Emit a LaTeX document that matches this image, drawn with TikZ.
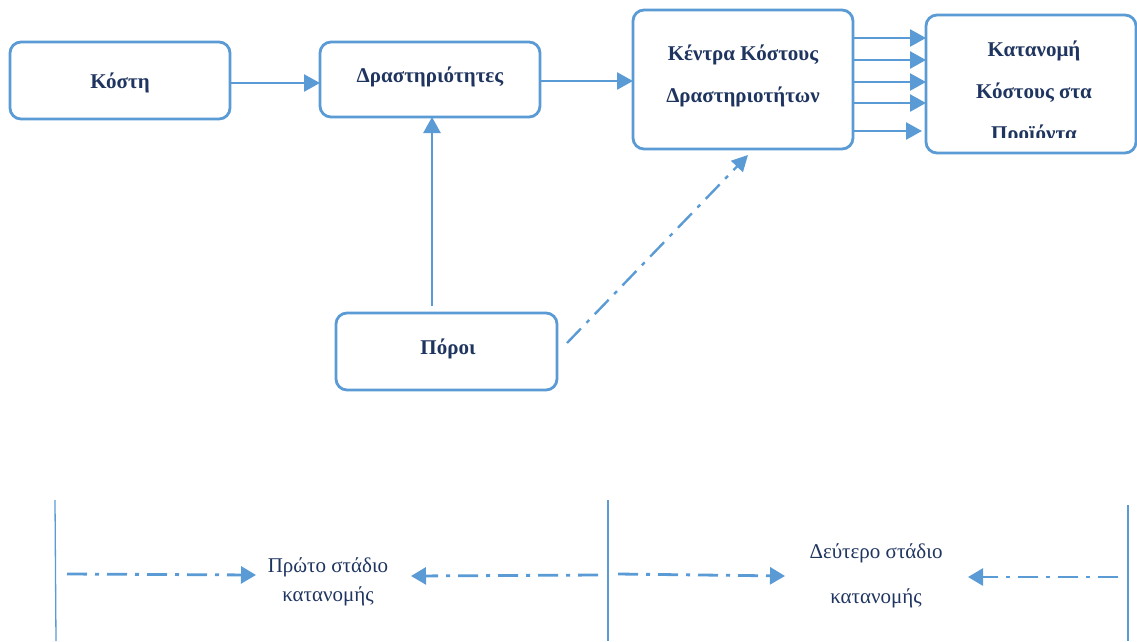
\documentclass[tikz,border=0pt]{standalone}
\usepackage{fontspec}
\setmainfont{Liberation Serif}
\usetikzlibrary{arrows.meta}
\definecolor{lineblue}{HTML}{5B9BD5}
\definecolor{textnavy}{HTML}{1F3560}
\begin{document}
\begin{tikzpicture}[x=1pt,y=-1pt,
  box/.style={draw=lineblue,line width=2.8pt,rounded corners=11pt},
  lbl/.style={text=textnavy,font=\fontsize{21}{42}\selectfont\bfseries,align=center,inner sep=0pt},
  stagetxt/.style={text=textnavy,font=\fontsize{21}{29}\selectfont,align=center,inner sep=0pt},
  conn/.style={draw=lineblue,line width=2.6pt,-{Triangle[length=16pt,width=17pt]}},
  dd/.style={draw=lineblue,line width=2.8pt,dash pattern=on 20pt off 8pt on 4pt off 8pt,-{Triangle[length=15pt,width=17pt]}},
  edge/.style={draw=lineblue,line width=1.3pt}]
\useasboundingbox (0,0) rectangle (1137,641);

% boxes
\draw[box] (10,42) rectangle (230,119);
\node[lbl] (koste) at (120,83) {Κόστη};
\draw[box] (320,42) rectangle (540,117);
\node[lbl] (drast) at (430,77) {Δραστηριότητες};
\draw[box] (633,10) rectangle (853,149);
\node[lbl] (kentra) at (743,76) {Κέντρα Κόστους\\Δραστηριοτήτων};
\draw[box] (926,15) rectangle (1136,153);
\begin{scope}
  \clip (926,15) rectangle (1137,137);
  \node[lbl,anchor=north] (katanomi) at (1034,41) {Κατανομή\\Κόστους στα\\Προϊόντα};
\end{scope}
\draw[box] (336,313) rectangle (557,390);
\node[lbl] (poroi) at (448,349) {Πόροι};

% anchor points of the connectors
\coordinate (kR) at (230,83);  \coordinate (dL) at (320,83);
\coordinate (dR) at (540,81);  \coordinate (cL) at (633,81);
\coordinate (dB) at (432,117); \coordinate (pT) at (432,306);
\coordinate (pR) at (567,343); \coordinate (cB) at (748,155);

\draw[conn] (kR) -- (dL);
\draw[conn] (dR) -- (cL);
\draw[conn] (pT) -- (dB);
\draw[draw=lineblue,line width=2.4pt,dash pattern=on 20pt off 8pt on 4pt off 8pt,-{Triangle[length=16pt,width=16pt]}] (pR) -- (cB);

% five flows into the products box
\foreach \yy/\tip in {38/926,60/926,82/926,103/926,131/922}{
  \draw[conn] (853,\yy) -- (\tip,\yy);
}

% stage boundaries
\coordinate (b1t) at (55,500);   \coordinate (b1b) at (56,641);
\coordinate (b2t) at (608,500);  \coordinate (b2b) at (608,641);
\coordinate (b3t) at (1128,505); \coordinate (b3b) at (1128,641);
\draw[edge] (b1t) -- (b1b);
\draw[edge] (b2t) -- (b2b);
\draw[edge] (b3t) -- (b3b);

% stage labels
\node[stagetxt] (stage1) at (328,582) {Πρώτο στάδιο\\κατανομής};
\node[stagetxt] (stage2) at (876,576) {Δεύτερο στάδιο\\\rule{0pt}{40pt}κατανομής};

\coordinate (s1a) at (67,574);   \coordinate (s1b) at (256,575);
\coordinate (s1c) at (598,575);  \coordinate (s1d) at (411,576);
\coordinate (s2a) at (618,574);  \coordinate (s2b) at (785,576);
\coordinate (s2c) at (1118,577); \coordinate (s2d) at (968,577);
\draw[dd] (s1a) -- (s1b);
\draw[dd] (s1c) -- (s1d);
\draw[dd] (s2a) -- (s2b);
\draw[dd] (s2c) -- (s2d);
\end{tikzpicture}
\end{document}
